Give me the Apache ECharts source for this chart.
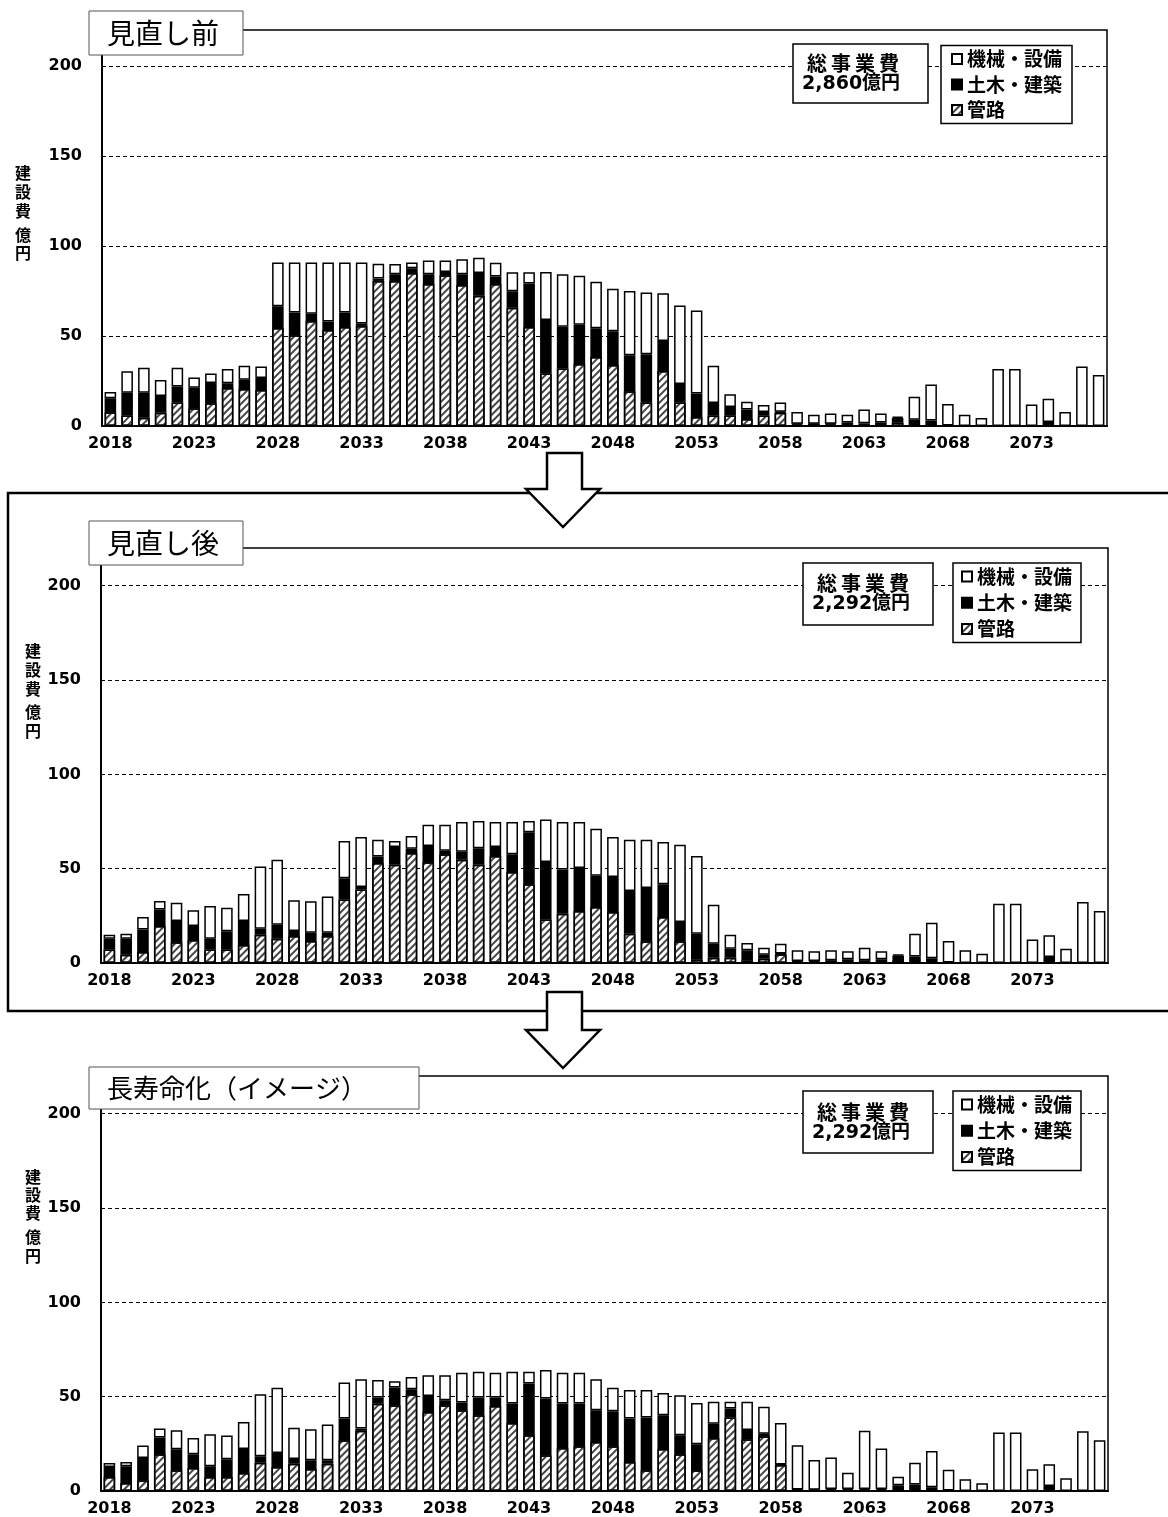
<!DOCTYPE html>
<html><head><meta charset="utf-8">
<script src="https://cdn.jsdelivr.net/npm/echarts@6/dist/echarts.min.js"></script>
<style>html,body{margin:0;padding:0;background:#fff}#c{width:1168px;height:1517px}</style>
</head><body><div id="c"></div><script>
// ---- categories ----
const years = ['2018','2019','2020','2021','2022','2023','2024','2025','2026','2027',
  '2028','2029','2030','2031','2032','2033','2034','2035','2036','2037',
  '2038','2039','2040','2041','2042','2043','2044','2045','2046','2047',
  '2048','2049','2050','2051','2052','2053','2054','2055','2056','2057',
  '2058','2059','2060','2061','2062','2063','2064','2065','2066','2067',
  '2068','2069','2070','2071','2072','2073','2074','2075','2076','2077'];
const legendNames = ['機械・設備','土木・建築','管路'];

// ---- 見直し前 (億円) ----
const beforePipe = [7.6,5.9,4.6,7.4,13.1,9.8,12.6,21.1,20.6,20.0,
  54.4,50.4,58.3,53.3,55.0,55.6,80.6,80.6,85.0,78.9,
  83.7,78.3,72.4,78.9,65.7,55.0,29.1,31.9,34.4,38.3,
  33.9,19.3,13.1,30.6,13.1,5.0,5.9,5.9,3.9,5.9,
  7.4,0.8,1.0,0.8,0.5,0.5,0.5,2.0,0.5,0.5,
  0,0,0,0,0,0,0,0,0,0];
const beforeCivil = [7.8,12.6,13.9,9.3,8.9,11.5,11.3,2.6,5.1,6.7,
  12.1,12.7,4.1,4.7,8.1,1.4,1.3,3.7,2.6,5.4,
  1.9,6.0,12.6,4.1,9.1,24.1,29.8,23.3,21.9,16.0,
  18.7,20.0,26.7,16.6,10.2,13.0,6.9,4.7,5.2,1.9,
  0.5,0.5,0.3,0.5,1.5,1.0,1.5,2.5,3.0,2.5,
  0.3,0,0,0,0,0,2.2,0,0,0];
const beforeMech = [3.5,11.9,13.9,8.9,10.4,5.7,5.2,8.0,7.8,6.4,
  24.4,27.8,28.5,32.9,27.8,33.9,8.3,5.7,3.3,7.7,
  6.4,8.3,8.5,7.7,10.6,6.3,26.7,29.1,27.2,25.9,
  23.7,35.7,34.3,26.5,43.6,46.1,20.7,7.0,4.4,3.9,
  5.1,6.5,5.0,5.7,4.3,7.6,5.0,0.7,12.8,20.1,
  11.9,6.3,4.4,31.7,31.7,11.9,13.0,7.8,33.1,28.3];

// ---- 見直し後 (億円) ----
const afterPipe = [7.2,4.4,5.8,19.6,11.0,12.2,7.2,7.2,9.5,15.0,
  12.9,14.3,11.7,14.3,33.6,39.0,53.0,52.1,58.3,53.4,
  57.6,54.8,52.1,56.7,48.2,41.7,23.0,26.1,27.6,29.7,
  27.0,15.5,11.5,24.4,11.5,1.9,2.8,2.8,1.4,2.3,
  4.6,0.5,0.5,0.5,0.5,0.5,0.5,1.5,0.5,0.5,
  0,0,0,0,0,0,0,0,0,0];
const afterCivil = [5.7,8.5,11.9,8.7,11.3,7.4,5.7,9.6,12.8,3.2,
  7.4,2.7,4.4,1.8,11.3,1.3,3.5,9.4,2.3,8.6,
  1.9,4.2,8.7,4.8,9.4,27.6,30.5,23.5,22.8,16.6,
  18.6,22.7,28.3,17.3,10.2,13.6,7.4,4.8,5.3,2.1,
  0.5,0.5,0.5,1.0,1.5,1.0,1.5,2.5,3.0,2.0,
  0.3,0,0,0,0,0,3.2,0,0,0];
const afterMech = [2.1,2.6,6.7,4.6,9.7,8.3,17.3,12.5,14.3,33.0,
  34.5,16.2,16.6,19.2,19.8,26.5,8.9,3.2,6.7,11.3,
  13.8,15.7,14.5,13.2,17.1,6.0,22.6,25.1,24.3,24.9,
  21.2,27.2,25.6,22.4,41.0,41.2,20.7,7.4,3.9,3.7,
  5.1,5.7,5.2,5.2,4.2,6.6,4.2,0.6,12.0,18.9,
  11.4,6.7,4.9,31.4,31.4,12.4,11.5,7.6,32.3,27.6];

// ---- 長寿命化(イメージ) (億円) ----
const lifePipe = [7.4,4.2,5.7,19.5,11.0,12.2,7.4,7.4,9.6,15.0,
  12.7,14.5,11.7,14.5,26.9,31.9,46.2,45.5,51.3,41.9,
  45.5,42.8,40.2,45.0,36.1,29.6,18.9,22.8,23.7,26.0,
  23.7,15.4,11.0,22.3,19.5,11.0,28.1,38.9,27.4,29.0,
  13.8,0.4,0.3,0.3,0.3,0.3,0.3,0.5,0.5,0.5,
  0,0,0,0,0,0,0,0,0,0];
const lifeCivil = [5.3,8.9,11.8,8.8,11.1,7.3,5.7,9.4,12.7,3.4,
  7.5,2.5,4.6,1.8,11.5,1.2,3.4,9.4,2.7,8.4,
  2.6,4.1,9.4,4.6,10.3,27.4,30.1,23.6,22.7,16.8,
  18.6,23.0,27.9,17.9,10.1,13.8,7.5,4.8,5.0,1.4,
  0.3,0.4,0.4,0.7,0.7,0.7,0.7,2.5,3.0,1.5,
  0.3,0,0,0,0,0,2.6,0,0,0];
const lifeMech = [2.2,2.3,6.6,4.8,10.1,8.6,17.0,12.6,14.3,32.9,
  34.5,16.5,16.4,18.9,19.1,26.2,9.2,3.3,6.5,11.1,
  13.3,15.8,13.6,13.1,16.8,6.2,15.1,16.3,16.3,16.5,
  12.4,15.1,14.6,11.8,21.2,21.9,11.7,3.6,14.9,14.2,
  22.0,23.4,15.8,16.7,8.7,30.9,21.5,4.6,11.5,19.2,
  10.9,6.2,4.1,31.0,31.0,11.5,11.6,6.7,31.7,26.9];

const panelTitles = ['見直し前','見直し後','長寿命化（イメージ）'];
const totalLabels = ['2,860億円','2,292億円','2,292億円'];

// ---- layout ----
const NUM = '"DejaVu Sans","Noto Sans CJK JP",sans-serif';
const JP = '"Noto Sans CJK JP",sans-serif';
const panels = [
  {data:[beforePipe,beforeCivil,beforeMech], grid:{left:102,right:61,top:30,bottom:1091},
   legend:{left:941,top:45.5,gap:6.5,pad:[4,10,4,10]},
   title:{x:89,y:11,w:154,h:44,tx:107}, total:{x:793,y:44,w:135,h:59,l1x:807,l1y:63,l2x:802,l2y:84},
   yname:{x:23,ys:[173,192,211,235,253]}},
  {data:[afterPipe,afterCivil,afterMech], grid:{left:101,right:60,top:548,bottom:554},
   legend:{left:953,top:563,gap:7.3,pad:[4,9,4,8]},
   title:{x:89,y:521,w:154,h:44,tx:107}, total:{x:803,y:563,w:130,h:62,l1x:817,l1y:583,l2x:812,l2y:604},
   yname:{x:33,ys:[651,670,689,712,731]}},
  {data:[lifePipe,lifeCivil,lifeMech], grid:{left:101,right:60,top:1076,bottom:26},
   legend:{left:953,top:1091,gap:7.3,pad:[4,9,4,8]},
   title:{x:89,y:1067,w:330,h:42,tx:107}, total:{x:803,y:1091,w:130,h:62,l1x:817,l1y:1112,l2x:812,l2y:1133},
   yname:{x:33,ys:[1177,1195,1213,1237,1256]}}
];

const hatch = {symbol:'rect', symbolSize:1, dashArrayX:[1,0], dashArrayY:[1.5,2.5], rotation:-Math.PI/4, color:'#444'};
const styles = [
  {color:'#fff', borderColor:'#000', borderWidth:1.5, decal:hatch},
  {color:'#000', borderColor:'#000', borderWidth:1.5},
  {color:'#fff', borderColor:'#000', borderWidth:1.5}
];
const sNames = ['管路','土木・建築','機械・設備'];

const grids=[], xAxes=[], yAxes=[], series=[], legends=[], graphics=[];
panels.forEach((p,i)=>{
  grids.push(Object.assign({show:true, borderColor:'#000', borderWidth:1.5, backgroundColor:'transparent'}, p.grid));
  xAxes.push({type:'category', gridIndex:i, data:years,
    axisLine:{show:true, lineStyle:{color:'#000', width:2}}, axisTick:{show:false},
    axisLabel:{interval:4, margin:10, color:'#000', fontSize:16, fontWeight:'bold', fontFamily:NUM}});
  yAxes.push({type:'value', gridIndex:i, min:0, max:220, interval:50,
    axisLine:{show:true, lineStyle:{color:'#000', width:2}}, axisTick:{show:false},
    axisLabel:{margin:20, color:'#000', fontSize:16, fontWeight:'bold', fontFamily:NUM,
      formatter:v=> v>200 ? '' : String(v)},
    splitLine:{show:true, showMinLine:false, showMaxLine:false, lineStyle:{color:'#000', width:1, type:[4,3]}}});
  p.data.forEach((d,k)=>{
    series.push({type:'bar', name:sNames[k], data:d, xAxisIndex:i, yAxisIndex:i, stack:'s'+i,
      barCategoryGap:'31%', itemStyle:styles[k], emphasis:{disabled:true}, animation:false});
  });
  legends.push({data:legendNames, orient:'vertical', left:p.legend.left, top:p.legend.top,
    itemWidth:10, itemHeight:10, itemGap:p.legend.gap, itemTextGap:6, icon:'rect',
    padding:p.legend.pad, borderColor:'#000', borderWidth:1.5, backgroundColor:'#fff',
    selectedMode:false, z:20,
    textStyle:{fontSize:19, fontWeight:'bold', fontFamily:JP, color:'#000'}});
  // title box
  graphics.push({type:'rect', z:50, shape:{x:p.title.x, y:p.title.y, width:p.title.w, height:p.title.h},
    style:{fill:'#fff', stroke:'#555', lineWidth:1}});
  graphics.push({type:'text', z:51, x:p.title.tx, y:p.title.y+p.title.h/2,
    style:{text:panelTitles[i], fill:'#000', fontSize:i===2?26:28, fontFamily:JP, verticalAlign:'middle', textAlign:'left'}});
  // total box
  const t=p.total;
  graphics.push({type:'rect', z:50, shape:{x:t.x, y:t.y, width:t.w, height:t.h},
    style:{fill:'#fff', stroke:'#000', lineWidth:1.5}});
  graphics.push({type:'text', z:51, x:t.l1x, y:t.l1y,
    style:{text:'総\u2009事\u2009業\u2009費', fill:'#000', fontSize:20, fontWeight:'bold', fontFamily:JP, verticalAlign:'middle'}});
  graphics.push({type:'text', z:51, x:t.l2x, y:t.l2y,
    style:{text:totalLabels[i], fill:'#000', fontSize:19, fontWeight:'bold', fontFamily:NUM, verticalAlign:'middle'}});
  // y-axis name (vertical)
  ['建','設','費','億','円'].forEach((ch,j)=>{
    graphics.push({type:'text', z:51, x:p.yname.x, y:p.yname.ys[j],
      style:{text:ch, fill:'#000', fontSize:16, fontWeight:'bold', fontFamily:JP, textAlign:'center', verticalAlign:'middle'}});
  });
});

// outer frame around 見直し後
graphics.push({type:'rect', z:40, shape:{x:8, y:493, width:1180, height:518},
  style:{fill:'none', stroke:'#000', lineWidth:2.5}});
// hollow arrows
[[453,489,527],[992,1030,1068]].forEach(a=>{
  graphics.push({type:'polygon', z:60, shape:{points:[[547,a[0]],[582,a[0]],[582,a[1]],[600,a[1]],[563,a[2]],[526,a[1]],[547,a[1]]]},
    style:{fill:'#fff', stroke:'#000', lineWidth:2.5, lineJoin:'miter'}});
});

const chart = echarts.init(document.getElementById('c'), null, {renderer:'canvas'});
chart.setOption({
  animation:false, backgroundColor:'#fff',
  grid:grids, xAxis:xAxes, yAxis:yAxes, series:series, legend:legends, graphic:graphics
});
</script></body></html>
